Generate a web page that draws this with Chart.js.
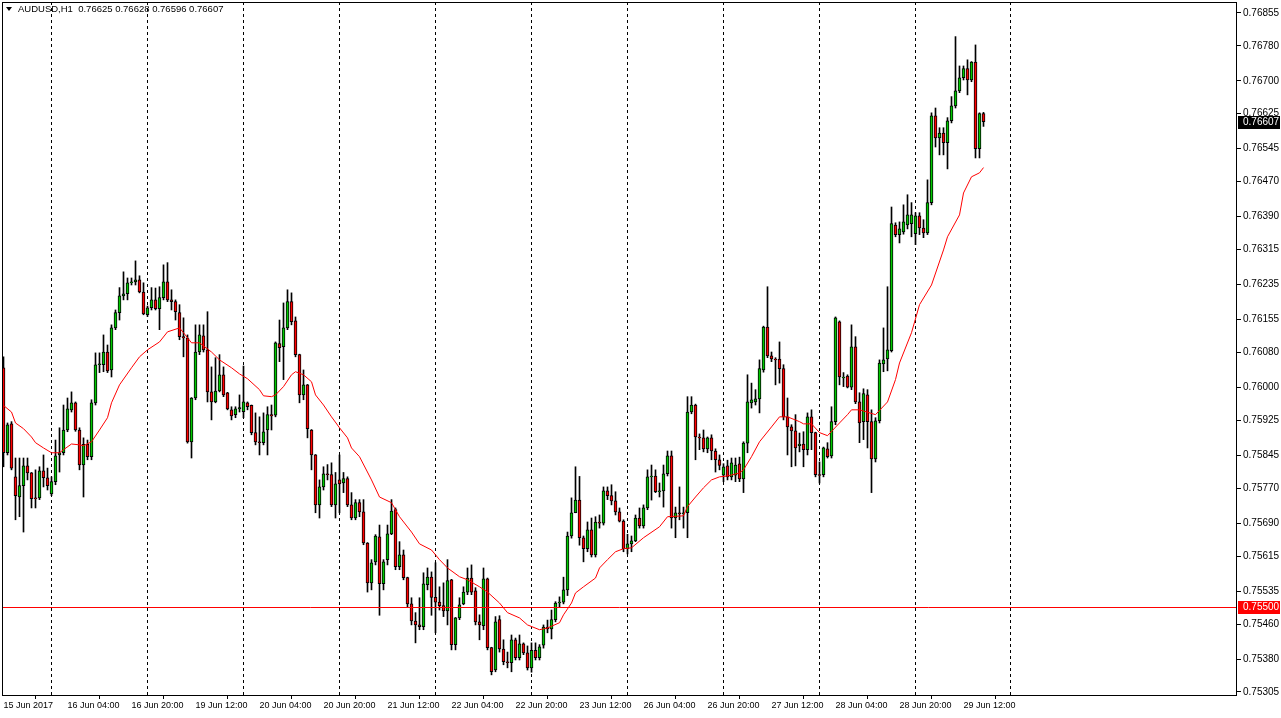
<!DOCTYPE html>
<html>
<head>
<meta charset="utf-8">
<script src="https://cdn.jsdelivr.net/npm/chart.js@4.4.0/dist/chart.umd.min.js"></script>
<style>
  html, body { margin: 0; padding: 0; background: #fff; }
  #chart { display: block; }
</style>
</head>
<body>
<canvas id="chart" width="1281" height="718"></canvas>
<script>
// AUDUSD H1, 15 Jun 2017 12:00 .. 29 Jun 2017 17:00 (one entry per hourly bar)
const opens = [
  0.76045,0.75851,0.75917,0.75796,0.75750,0.75776,0.75821,0.75805,0.75748,0.75748,
  0.75810,0.75794,0.75757,0.75785,0.75846,0.75851,0.75903,0.75949,0.75965,0.75903,
  0.75823,0.75870,0.75842,0.75965,0.76052,0.76052,0.76081,0.76040,0.76136,0.76171,
  0.76209,0.76214,0.76239,0.76241,0.76246,0.76218,0.76166,0.76182,0.76200,0.76180,
  0.76205,0.76241,0.76200,0.76196,0.76171,0.76116,0.76113,0.75876,0.75976,0.76081,
  0.76118,0.76086,0.75990,0.75967,0.75992,0.76029,0.75988,0.75949,0.75938,0.75951,
  0.75945,0.75965,0.75959,0.75897,0.75876,0.75874,0.75903,0.75938,0.75937,0.76100,
  0.76093,0.76136,0.76196,0.76152,0.76075,0.75983,0.76006,0.75903,0.75846,0.75732,
  0.75773,0.75803,0.75801,0.75732,0.75789,0.75782,0.75792,0.75732,0.75702,0.75737,
  0.75716,0.75645,0.75554,0.75602,0.75659,0.75552,0.75607,0.75666,0.75721,0.75591,
  0.75618,0.75566,0.75506,0.75467,0.75458,0.75454,0.75550,0.75567,0.75521,0.75510,
  0.75502,0.75490,0.75561,0.75413,0.75474,0.75506,0.75533,0.75565,0.75536,0.75465,
  0.75456,0.75563,0.75406,0.75355,0.75470,0.75403,0.75374,0.75372,0.75424,0.75383,
  0.75415,0.75394,0.75360,0.75400,0.75383,0.75412,0.75453,0.75449,0.75470,0.75508,
  0.75510,0.75538,0.75661,0.75714,0.75743,0.75657,0.75632,0.75675,0.75618,0.75693,
  0.75690,0.75764,0.75753,0.75741,0.75716,0.75695,0.75632,0.75643,0.75650,0.75702,
  0.75684,0.75725,0.75796,0.75798,0.75762,0.75764,0.75803,0.75844,0.75702,0.75714,
  0.75712,0.75714,0.75944,0.75960,0.75887,0.75885,0.75860,0.75885,0.75855,0.75835,
  0.75800,0.75821,0.75796,0.75800,0.75826,0.75791,0.75873,0.75965,0.75967,0.75974,
  0.76040,0.76138,0.76072,0.76065,0.76065,0.76043,0.75933,0.75910,0.75901,0.75867,
  0.75871,0.75858,0.75933,0.75897,0.75801,0.75801,0.75860,0.75844,0.75922,0.76150,
  0.76022,0.76026,0.76001,0.76093,0.75967,0.75922,0.75983,0.75922,0.75837,0.75924,
  0.76054,0.76065,0.76084,0.76371,0.76349,0.76355,0.76371,0.76374,0.76351,0.76392,
  0.76364,0.76353,0.76422,0.76620,0.76570,0.76581,0.76559,0.76609,0.76643,0.76677,
  0.76707,0.76728,0.76702,0.76743,0.76545,0.76625
];
const highs = [
  0.76070,0.75919,0.75922,0.75839,0.75839,0.75839,0.75839,0.75806,0.75812,0.75819,
  0.75846,0.75816,0.75796,0.75880,0.75908,0.75960,0.75976,0.75990,0.75967,0.75908,
  0.75885,0.75880,0.75972,0.76079,0.76079,0.76120,0.76097,0.76143,0.76177,0.76228,
  0.76264,0.76250,0.76250,0.76289,0.76255,0.76239,0.76186,0.76228,0.76227,0.76230,
  0.76280,0.76285,0.76223,0.76200,0.76189,0.76159,0.76120,0.75977,0.76143,0.76143,
  0.76143,0.76173,0.76047,0.76068,0.76075,0.76047,0.75989,0.75956,0.75956,0.75983,
  0.76049,0.75967,0.75960,0.75942,0.75933,0.75942,0.75956,0.75960,0.76104,0.76154,
  0.76193,0.76223,0.76216,0.76161,0.76076,0.76040,0.76007,0.75904,0.75847,0.75789,
  0.75819,0.75824,0.75828,0.75806,0.75846,0.75806,0.75796,0.75760,0.75744,0.75744,
  0.75744,0.75646,0.75607,0.75664,0.75686,0.75607,0.75686,0.75744,0.75725,0.75648,
  0.75629,0.75567,0.75520,0.75486,0.75520,0.75577,0.75588,0.75579,0.75600,0.75545,
  0.75554,0.75607,0.75562,0.75475,0.75520,0.75545,0.75588,0.75595,0.75543,0.75481,
  0.75588,0.75565,0.75407,0.75477,0.75479,0.75424,0.75396,0.75435,0.75428,0.75435,
  0.75417,0.75410,0.75417,0.75417,0.75413,0.75458,0.75469,0.75492,0.75511,0.75522,
  0.75567,0.75670,0.75748,0.75819,0.75797,0.75661,0.75693,0.75702,0.75705,0.75709,
  0.75773,0.75773,0.75778,0.75762,0.75725,0.75698,0.75665,0.75661,0.75709,0.75725,
  0.75732,0.75812,0.75823,0.75812,0.75782,0.75823,0.75855,0.75855,0.75727,0.75773,
  0.75727,0.75979,0.75979,0.75962,0.75894,0.75903,0.75887,0.75892,0.75860,0.75846,
  0.75826,0.75834,0.75839,0.75839,0.75841,0.75876,0.76029,0.76010,0.75995,0.76063,
  0.76140,0.76230,0.76081,0.76068,0.76104,0.76052,0.75976,0.75915,0.75938,0.75896,
  0.75899,0.75942,0.75949,0.75898,0.75830,0.75864,0.75874,0.75956,0.76161,0.76152,
  0.76034,0.76029,0.76143,0.76116,0.75988,0.75997,0.75995,0.75949,0.75931,0.76063,
  0.76136,0.76230,0.76412,0.76376,0.76378,0.76417,0.76440,0.76422,0.76399,0.76399,
  0.76383,0.76474,0.76627,0.76638,0.76593,0.76593,0.76616,0.76664,0.76801,0.76734,
  0.76734,0.76748,0.76744,0.76782,0.76627,0.76628
];
const lows = [
  0.75819,0.75846,0.75812,0.75698,0.75705,0.75670,0.75789,0.75725,0.75725,0.75744,
  0.75773,0.75766,0.75753,0.75778,0.75807,0.75846,0.75899,0.75944,0.75900,0.75812,
  0.75750,0.75835,0.75835,0.75960,0.76034,0.76036,0.76034,0.76024,0.76132,0.76154,
  0.76200,0.76200,0.76234,0.76234,0.76216,0.76166,0.76162,0.76177,0.76177,0.76132,
  0.76200,0.76196,0.76177,0.76154,0.76109,0.76070,0.75873,0.75839,0.75972,0.76075,
  0.76081,0.75967,0.75926,0.75965,0.75990,0.75979,0.75949,0.75926,0.75931,0.75944,
  0.75931,0.75949,0.75892,0.75869,0.75846,0.75869,0.75846,0.75903,0.75933,0.76059,
  0.76018,0.76132,0.76143,0.76070,0.75965,0.75972,0.75885,0.75812,0.75714,0.75702,
  0.75766,0.75789,0.75728,0.75702,0.75714,0.75760,0.75728,0.75698,0.75698,0.75705,
  0.75641,0.75533,0.75538,0.75595,0.75480,0.75538,0.75595,0.75664,0.75584,0.75584,
  0.75561,0.75498,0.75458,0.75417,0.75447,0.75447,0.75538,0.75480,0.75440,0.75492,
  0.75477,0.75458,0.75401,0.75401,0.75470,0.75504,0.75527,0.75527,0.75458,0.75424,
  0.75447,0.75401,0.75344,0.75351,0.75396,0.75367,0.75360,0.75351,0.75378,0.75378,
  0.75390,0.75355,0.75350,0.75378,0.75378,0.75405,0.75440,0.75426,0.75465,0.75499,
  0.75506,0.75525,0.75656,0.75714,0.75640,0.75602,0.75625,0.75613,0.75613,0.75679,
  0.75686,0.75744,0.75732,0.75709,0.75693,0.75625,0.75620,0.75625,0.75648,0.75679,
  0.75679,0.75721,0.75743,0.75760,0.75750,0.75727,0.75798,0.75679,0.75657,0.75698,
  0.75679,0.75657,0.75940,0.75835,0.75858,0.75853,0.75851,0.75835,0.75807,0.75812,
  0.75785,0.75789,0.75789,0.75785,0.75785,0.75760,0.75851,0.75953,0.75960,0.75942,
  0.76035,0.76068,0.76059,0.76006,0.76010,0.75926,0.75846,0.75819,0.75821,0.75853,
  0.75819,0.75846,0.75858,0.75796,0.75782,0.75796,0.75839,0.75839,0.75915,0.76006,
  0.76002,0.75999,0.75995,0.75963,0.75874,0.75881,0.75862,0.75760,0.75830,0.75919,
  0.76036,0.76038,0.76081,0.76344,0.76330,0.76350,0.76362,0.76344,0.76326,0.76349,
  0.76342,0.76349,0.76417,0.76549,0.76531,0.76531,0.76499,0.76604,0.76638,0.76673,
  0.76702,0.76668,0.76698,0.76524,0.76524,0.76596
];
const closes = [
  0.75851,0.75915,0.75816,0.75753,0.75776,0.75821,0.75805,0.75746,0.75747,0.75810,
  0.75794,0.75776,0.75785,0.75844,0.75851,0.75903,0.75951,0.75965,0.75903,0.75823,
  0.75870,0.75842,0.75965,0.76052,0.76054,0.76081,0.76038,0.76136,0.76171,0.76209,
  0.76214,0.76239,0.76241,0.76246,0.76218,0.76168,0.76182,0.76200,0.76180,0.76205,
  0.76241,0.76200,0.76196,0.76173,0.76116,0.76113,0.75876,0.75976,0.76081,0.76120,
  0.76086,0.75990,0.75967,0.75992,0.76029,0.75983,0.75951,0.75935,0.75951,0.75954,
  0.75967,0.75956,0.75897,0.75876,0.75874,0.75899,0.75938,0.75935,0.76102,0.76091,
  0.76136,0.76196,0.76150,0.76075,0.75983,0.76006,0.75906,0.75846,0.75732,0.75773,
  0.75803,0.75801,0.75732,0.75780,0.75780,0.75792,0.75732,0.75702,0.75737,0.75716,
  0.75645,0.75554,0.75600,0.75661,0.75552,0.75602,0.75666,0.75718,0.75591,0.75618,
  0.75566,0.75506,0.75467,0.75458,0.75454,0.75552,0.75567,0.75521,0.75510,0.75502,
  0.75490,0.75559,0.75413,0.75474,0.75504,0.75533,0.75565,0.75533,0.75465,0.75458,
  0.75563,0.75406,0.75351,0.75465,0.75403,0.75374,0.75372,0.75424,0.75383,0.75415,
  0.75394,0.75360,0.75400,0.75383,0.75408,0.75453,0.75449,0.75470,0.75508,0.75510,
  0.75538,0.75661,0.75714,0.75743,0.75657,0.75632,0.75675,0.75618,0.75693,0.75690,
  0.75764,0.75753,0.75741,0.75716,0.75695,0.75632,0.75643,0.75650,0.75702,0.75684,
  0.75725,0.75796,0.75798,0.75762,0.75764,0.75803,0.75844,0.75702,0.75714,0.75712,
  0.75714,0.75944,0.75960,0.75887,0.75885,0.75860,0.75885,0.75855,0.75835,0.75822,
  0.75819,0.75796,0.75828,0.75823,0.75791,0.75873,0.75967,0.75972,0.75974,0.76043,
  0.76138,0.76072,0.76065,0.76063,0.76043,0.75933,0.75910,0.75901,0.75862,0.75871,
  0.75858,0.75933,0.75897,0.75801,0.75799,0.75862,0.75842,0.75922,0.76159,0.76024,
  0.76024,0.76001,0.76093,0.75967,0.75919,0.75986,0.75922,0.75837,0.75924,0.76056,
  0.76063,0.76086,0.76374,0.76349,0.76362,0.76378,0.76394,0.76394,0.76392,0.76364,
  0.76353,0.76422,0.76620,0.76570,0.76581,0.76559,0.76609,0.76643,0.76677,0.76707,
  0.76728,0.76702,0.76743,0.76545,0.76625,0.76607
];

// red moving average, read at these bar indexes
const maIdx = [0,2,3,5,7,8,10,12,14,15,17,19,20,22,24,26,27,29,32,34,36,39,41,44,45,47,49,52,54,57,
  59,61,64,65,67,68,70,72,73,75,77,78,80,82,84,86,87,89,92,94,97,99,102,104,107,109,111,114,116,119,
  121,124,126,129,131,134,136,139,140,142,143,145,148,149,151,153,155,157,160,164,166,170,171,173,175,177,179,181,184,185,
  187,189,192,194,196,199,200,202,204,206,209,211,212,214,218,221,223,224,227,229,232,235,236,239,240,242,244,245];
const maVal = [0.75959,0.75944,0.75919,0.75906,0.75887,0.75874,0.75862,0.75851,0.75851,0.75858,
  0.75871,0.75869,0.75867,0.75876,0.75903,0.75931,0.75965,0.76006,0.76045,0.76070,
  0.76086,0.76104,0.76127,0.76136,0.76125,0.76102,0.76102,0.76081,0.76063,0.76045,
  0.76031,0.76020,0.75995,0.75981,0.75979,0.75983,0.76002,0.76029,0.76036,0.76029,
  0.76013,0.75983,0.75960,0.75933,0.75908,0.75885,0.75862,0.75842,0.75789,0.75750,
  0.75737,0.75705,0.75670,0.75643,0.75629,0.75607,0.75588,0.75568,0.75561,0.75545,
  0.75533,0.75508,0.75486,0.75474,0.75458,0.75447,0.75451,0.75463,0.75481,0.75508,
  0.75531,0.75545,0.75565,0.75588,0.75607,0.75625,0.75632,0.75634,0.75657,0.75682,
  0.75705,0.75707,0.75728,0.75750,0.75771,0.75789,0.75796,0.75798,0.75805,0.75812,
  0.75842,0.75876,0.75910,0.75933,0.75933,0.75922,0.75917,0.75917,0.75897,0.75890,
  0.75919,0.75938,0.75949,0.75949,0.75938,0.75967,0.76018,0.76056,0.76125,0.76189,
  0.76234,0.76314,0.76344,0.76394,0.76444,0.76481,0.76490,0.76502];

// axis labels
const timeIdx = [0,16,32,48,64,80,96,112,128,144,160,176,192,208,224,240];
const timeLabels = ['15 Jun 2017','16 Jun 04:00','16 Jun 20:00','19 Jun 12:00','20 Jun 04:00','20 Jun 20:00',
  '21 Jun 12:00','22 Jun 04:00','22 Jun 20:00','23 Jun 12:00','26 Jun 04:00','26 Jun 20:00',
  '27 Jun 12:00','28 Jun 04:00','28 Jun 20:00','29 Jun 12:00'];
const daySepIdx = [12,36,60,84,108,132,156,180,204,228,252];
const priceTicks = [0.75305,0.75380,0.75460,0.75535,0.75615,0.75690,0.75770,0.75845,0.75925,0.76000,
  0.76080,0.76155,0.76235,0.76315,0.76390,0.76470,0.76545,0.76625,0.76700,0.76780,0.76855];

const symbolText = 'AUDUSD,H1';
const lastOHLC = [0.76625, 0.76628, 0.76596, 0.76607];
const levelPrice = 0.75500;
const lastPrice = 0.76607;

const BULL = '#00c800';
const BEAR = '#ff0000';
const FONT = '"Liberation Sans", Arial, sans-serif';

const wickData = highs.map((h, i) => ({ x: i, y: [lows[i], h] }));
const bodyData = opens.map((o, i) => {
  let c = closes[i];
  if (Math.abs(c - o) < 0.00002) c = o + (c >= o ? 0.00002 : -0.00002);
  return { x: i, y: [o, c] };
});
const maData = maIdx.map((x, k) => ({ x: x, y: maVal[k] }));

const mtDecor = {
  id: 'mtDecor',
  beforeDatasetsDraw(chart) {
    const { ctx, chartArea: a, scales: { x } } = chart;
    ctx.save();
    ctx.strokeStyle = '#000';
    ctx.lineWidth = 1;
    ctx.setLineDash([3, 3]);
    daySepIdx.forEach(i => {
      const px = Math.round(x.getPixelForValue(i)) - 0.5;
      if (px < a.left || px > a.right) return;
      ctx.beginPath();
      ctx.moveTo(px, a.top);
      ctx.lineTo(px, a.bottom);
      ctx.stroke();
    });
    ctx.restore();
  },
  afterDatasetsDraw(chart) {
    const { ctx, chartArea: a, scales: { y } } = chart;
    ctx.save();
    // horizontal level
    const ly = Math.round(y.getPixelForValue(levelPrice)) + 0.5;
    ctx.strokeStyle = '#ff0000';
    ctx.lineWidth = 1;
    ctx.beginPath();
    ctx.moveTo(a.left, ly);
    ctx.lineTo(a.right, ly);
    ctx.stroke();
    // frame
    ctx.strokeStyle = '#000';
    ctx.strokeRect(a.left + 0.5, a.top + 0.5, a.right - a.left - 1, a.bottom - a.top);
    // header
    ctx.fillStyle = '#000';
    ctx.font = '9.5px ' + FONT;
    ctx.textBaseline = 'middle';
    ctx.textAlign = 'left';
    ctx.beginPath();
    ctx.moveTo(6, 7); ctx.lineTo(12, 7); ctx.lineTo(9, 11); ctx.closePath();
    ctx.fill();
    ctx.fillText(symbolText + '  ' + lastOHLC.map(v => v.toFixed(5)).join(' '), 18, 9);
    ctx.restore();
  },
  afterDraw(chart) {
    const { ctx, chartArea: a, scales: { y } } = chart;
    ctx.save();
    ctx.font = '10px ' + FONT;
    ctx.textBaseline = 'middle';
    ctx.textAlign = 'left';
    const tag = (price, bg) => {
      const py = Math.round(y.getPixelForValue(price));
      ctx.fillStyle = bg;
      ctx.fillRect(a.right + 1, py - 6, 1281 - a.right - 2, 13);
      ctx.fillStyle = '#fff';
      ctx.fillText(price.toFixed(5), a.right + 6, py + 0.5);
    };
    tag(lastPrice, '#000');
    tag(levelPrice, '#ff0000');
    ctx.restore();
  }
};

new Chart(document.getElementById('chart'), {
  type: 'bar',
  data: {
    datasets: [
      {
        type: 'line',
        data: maData,
        borderColor: '#ff0000',
        borderWidth: 1,
        pointRadius: 0,
        tension: 0,
        order: 0
      },
      {
        data: bodyData,
        backgroundColor: closes.map((c, i) => c >= opens[i] ? BULL : BEAR),
        borderColor: '#000',
        borderWidth: 1,
        borderSkipped: false,
        barThickness: 3,
        grouped: false,
        order: 1
      },
      {
        data: wickData,
        backgroundColor: '#000',
        borderWidth: 0,
        barThickness: 1,
        grouped: false,
        order: 2
      }
    ]
  },
  options: {
    responsive: false,
    devicePixelRatio: 1,
    animation: false,
    layout: { padding: { left: 2, top: 2, right: 0, bottom: 0 } },
    plugins: { legend: { display: false }, tooltip: { enabled: false } },
    scales: {
      x: {
        type: 'linear',
        offset: false,
        min: -0.375,
        max: 308.375,
        afterBuildTicks: s => { s.ticks = timeIdx.map(v => ({ value: v })); },
        afterFit: s => { s.height = 23; s.paddingLeft = 0; s.paddingRight = 0; },
        grid: { drawOnChartArea: false, drawTicks: true, tickLength: 4, color: '#000' },
        border: { display: false },
        ticks: {
          autoSkip: false,
          maxRotation: 0,
          align: 'start',
          padding: 1,
          color: '#000',
          font: { family: FONT, size: 9 },
          callback: v => timeLabels[timeIdx.indexOf(v)]
        }
      },
      y: {
        type: 'linear',
        position: 'right',
        min: 0.75298,
        max: 0.76880,
        afterBuildTicks: s => { s.ticks = priceTicks.map(v => ({ value: v })); },
        afterFit: s => { s.width = 44; s.paddingTop = 0; s.paddingBottom = 0; },
        grid: { drawOnChartArea: false, drawTicks: true, tickLength: 4, color: '#000' },
        border: { display: false },
        ticks: {
          padding: 2,
          color: '#000',
          font: { family: FONT, size: 10 },
          callback: v => v.toFixed(5)
        }
      }
    }
  },
  plugins: [mtDecor]
});
</script>
</body>
</html>
